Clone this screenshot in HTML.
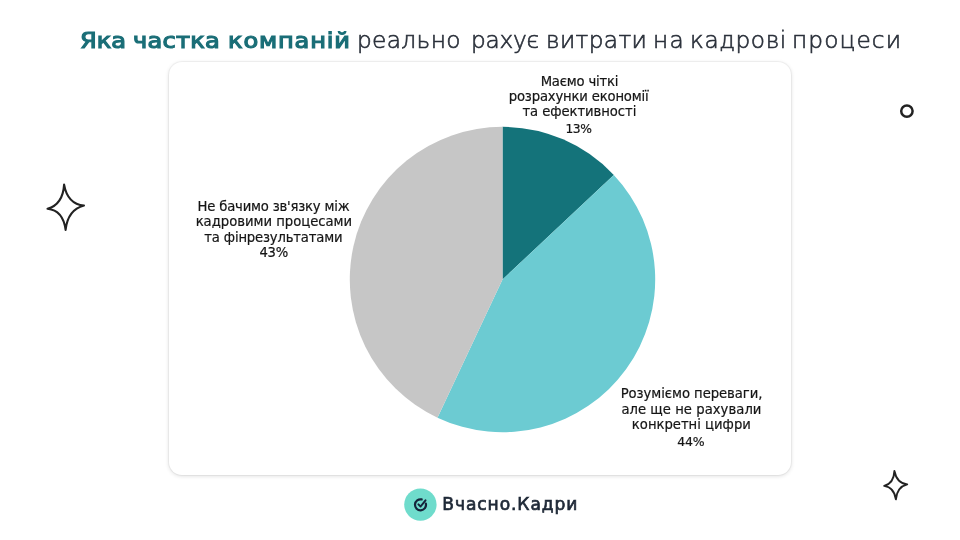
<!DOCTYPE html>
<html lang="uk">
<head>
<meta charset="utf-8">
<title>Яка частка компаній реально рахує витрати на кадрові процеси</title>
<style>
html,body{margin:0;padding:0}
body{width:960px;height:540px;background:#fff;position:relative;overflow:hidden;font-family:'DejaVu Sans','Liberation Sans',sans-serif}
span{position:absolute;white-space:pre;line-height:1}
h1,.lbl,.brand{will-change:transform}
h1,p,div.lbl{margin:0;padding:0;position:absolute;left:0;top:0;font-weight:400}
h1{font-size:21.5px}
h1 b{font-weight:400;color:#1a6e77;-webkit-text-stroke:1.2px #1a6e77}
h1 b span{transform:scaleX(1.12);transform-origin:0 0}
h1 em{font-style:normal;font-weight:200;color:#2b313b;-webkit-text-stroke:0.6px #2b313b}
h1 em span{font-size:22.8px;transform:scaleX(1.02);transform-origin:0 0}
.lbl{font-size:13.2px;color:#151515;-webkit-text-stroke:0.2px #151515}
.card{position:absolute;left:169px;top:62px;width:622px;height:413px;border-radius:13px;background:#fff;box-shadow:0 1px 4px rgba(0,0,0,.14),0 0 0 1px rgba(0,0,0,.035)}
svg{position:absolute;left:0;top:0}
.brand{font-size:17.1px;font-weight:400;color:#1f2937;-webkit-text-stroke:0.7px #1f2937}
</style>
</head>
<body>
<div class="card"></div>
<svg width="960" height="540" viewBox="0 0 960 540">
<path d="M502.5 279.5L502.50 126.80A152.7 152.7 0 0 1 613.81 174.97Z" fill="#14737a"/><path d="M502.5 279.5L613.81 174.97A152.7 152.7 0 0 1 437.48 417.67Z" fill="#6ccbd2"/><path d="M502.5 279.5L437.48 417.67A152.7 152.7 0 0 1 502.50 126.80Z" fill="#c6c6c6"/>
<path d="M64.10 184.62Q67.57 204.08 83.97 205.60Q67.77 209.96 65.60 229.88Q63.03 210.37 47.52 208.80Q62.83 204.49 64.10 184.62Z" fill="none" stroke="#222" stroke-width="2.1" stroke-linejoin="round" stroke-linecap="round"/>
<path d="M894.40 470.98Q896.83 483.23 907.23 484.40Q897.02 486.93 895.90 499.42Q894.02 487.12 884.18 485.90Q893.83 483.42 894.40 470.98Z" fill="none" stroke="#222" stroke-width="1.9" stroke-linejoin="round" stroke-linecap="round"/>
<circle cx="906.9" cy="111.1" r="5.7" fill="none" stroke="#222" stroke-width="2.5"/>
<circle cx="420.4" cy="504.6" r="16.2" fill="#6fdccc"/>
<path d="M425.88 503.66A5.5 5.5 0 1 1 421.64 499.42" fill="none" stroke="#16243a" stroke-width="2.2" stroke-linecap="round"/>
<path d="M418.4 504.4L420.6 506.5L425.5 500.3" fill="none" stroke="#16243a" stroke-width="2.0" stroke-linecap="round" stroke-linejoin="round"/>
</svg>
<h1><b><span style="left:80.40px;top:29.60px;letter-spacing:0.000px">Яка</span> <span style="left:133.47px;top:29.60px;letter-spacing:0.232px">частка</span> <span style="left:227.67px;top:29.60px;letter-spacing:0.756px">компаній</span></b> <em><span style="left:357.34px;top:28.60px;letter-spacing:0.346px">реально</span> <span style="left:470.64px;top:28.60px;letter-spacing:-0.251px">рахує</span> <span style="left:545.67px;top:28.60px;letter-spacing:0.328px">витрати</span> <span style="left:652.67px;top:28.60px;letter-spacing:1.329px">на</span> <span style="left:690.17px;top:28.60px;letter-spacing:0.558px">кадрові</span> <span style="left:792.17px;top:28.60px;letter-spacing:1.088px">процеси</span></em></h1>
<div class="lbl"><span style="left:540.66px;top:74.70px;letter-spacing:-0.194px">Маємо чіткі</span> <span style="left:508.77px;top:90.40px;letter-spacing:-0.170px">розрахунки економії</span> <span style="left:522.44px;top:105.40px;letter-spacing:-0.061px">та ефективності</span> <span style="left:565.42px;top:122.70px;letter-spacing:-0.402px;font-size:12.3px">13%</span></div>
<div class="lbl"><span style="left:197.56px;top:200.00px;letter-spacing:-0.189px">Не бачимо зв'язку між</span> <span style="left:195.67px;top:215.40px;letter-spacing:-0.015px">кадровими процесами</span> <span style="left:204.34px;top:230.60px;letter-spacing:-0.167px">та фінрезультатами</span> <span style="left:259.44px;top:246.40px;letter-spacing:-0.237px">43%</span></div>
<div class="lbl"><span style="left:620.66px;top:387.40px;letter-spacing:-0.047px">Розуміємо переваги,</span> <span style="left:621.39px;top:402.90px;letter-spacing:0.039px">але ще не рахували</span> <span style="left:631.87px;top:418.40px;letter-spacing:-0.005px">конкретні цифри</span> <span style="left:677.27px;top:436.00px;letter-spacing:-0.220px;font-size:12.5px">44%</span></div>
<p class="brand"><span style="left:442.26px;top:496.00px;letter-spacing:0.906px">Вчасно.Кадри</span></p>
</body>
</html>
